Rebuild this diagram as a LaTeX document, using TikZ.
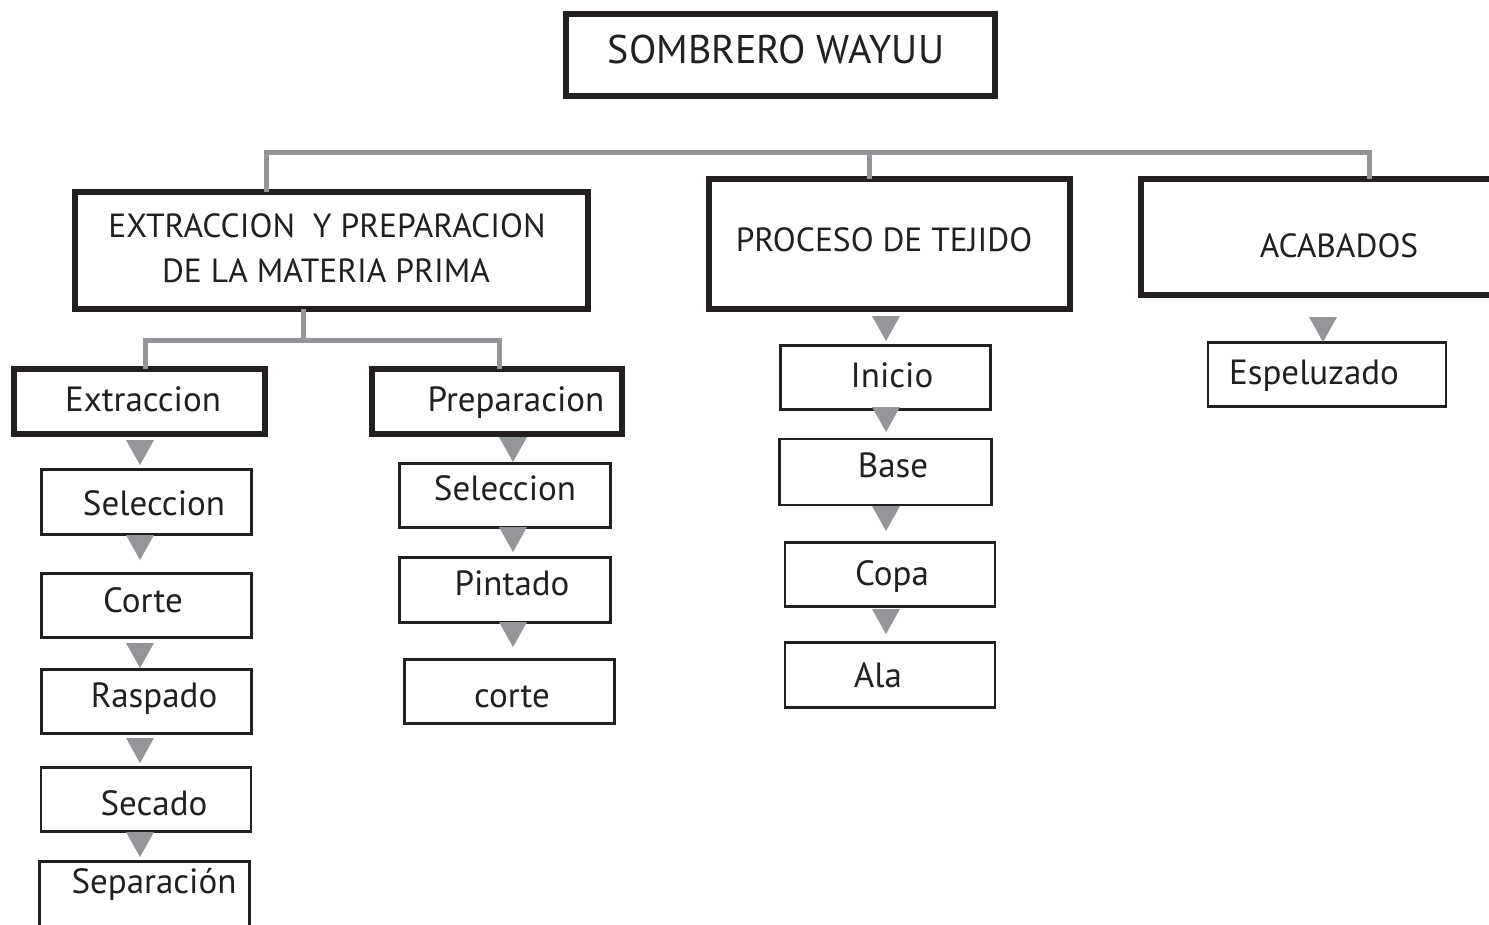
\documentclass[tikz,border=0pt]{standalone}
\usepackage{fontspec}
\setmainfont{PT Sans}
\definecolor{ink}{HTML}{231F20}
\definecolor{busgray}{HTML}{939598}
\begin{document}
\begin{tikzpicture}[x=1pt,y=-1pt,
  thickbox/.style={draw=ink, line width=5.5pt, inner sep=0pt, outer sep=0pt},
  thinbox/.style={draw=ink, line width=2.8pt, inner sep=0pt, outer sep=0pt},
  lbl/.style={anchor=base, inner sep=0pt, text=ink, font=\fontsize{35}{40}\selectfont},
  hlbl/.style={lbl, font=\fontsize{33.5}{40}\selectfont},
  bus/.style={draw=busgray, line width=5pt},
  tri/.pic={\fill[busgray] (-14,0) -- (14,0) -- (0,25) -- cycle;}
]
\clip (0,0) rectangle (1489,924);
\fill[white] (0,0) rectangle (1489,924);

% main boxes
\node[thickbox, minimum width=429pt, minimum height=82pt] (top) at (780.5,55) {};
\node[thickbox, minimum width=513pt, minimum height=117pt] (ext) at (331.5,250.5) {};
\node[thickbox, minimum width=361pt, minimum height=130pt] (proc) at (889.5,244) {};
\node[thickbox, minimum width=354pt, minimum height=116pt] (acab) at (1318,237) {};
\node[thickbox, minimum width=251pt, minimum height=65pt] (extr) at (139.5,401.5) {};
\node[thickbox, minimum width=250pt, minimum height=65pt] (prep) at (497,401.5) {};

% column 1
\node[thinbox, minimum width=210pt, minimum height=65pt] (sel1) at (146.5,502) {};
\node[thinbox, minimum width=210pt, minimum height=64pt] (cor1) at (146.5,605.5) {};
\node[thinbox, minimum width=210pt, minimum height=64pt] (ras) at (146.5,701.5) {};
\node[thinbox, minimum width=210pt, minimum height=64pt] (sec) at (146,799.5) {};
\node[thinbox, minimum width=210pt, minimum height=72pt] (sep) at (144.5,897.5) {};
% column 2
\node[thinbox, minimum width=211pt, minimum height=64pt] (sel2) at (505,495.5) {};
\node[thinbox, minimum width=211pt, minimum height=65pt] (pin) at (505,590) {};
\node[thinbox, minimum width=210pt, minimum height=64pt] (cor2) at (509.5,691.5) {};
% column 3
\node[thinbox, minimum width=210pt, minimum height=64pt] (ini) at (885.5,377.5) {};
\node[thinbox, minimum width=212pt, minimum height=66pt] (bas) at (885.5,472) {};
\node[thinbox, minimum width=210pt, minimum height=64pt] (cop) at (890,574.5) {};
\node[thinbox, minimum width=210pt, minimum height=65pt] (ala) at (890,675) {};
% column 4
\node[thinbox, minimum width=238pt, minimum height=64pt] (esp) at (1327,374.5) {};

% bus connectors
\coordinate (b1) at (266,152);
\coordinate (b2) at (869,152);
\coordinate (b3) at (1369,152);
\draw[bus] (b1 |- ext.north) -- (b1) -- (b3) -- (b3 |- acab.north);
\draw[bus] (b2) -- (b2 |- proc.north);
\coordinate (s) at (303,340);
\coordinate (sL) at (145,340);
\coordinate (sR) at (499,340);
\draw[bus] (s |- ext.south) -- (s);
\draw[bus] (sL |- extr.north) -- (sL) -- (sR) -- (sR |- prep.north);

% arrow triangles
\pic at (140,440) {tri};
\pic at (140,535) {tri};
\pic at (140,643) {tri};
\pic at (140,738) {tri};
\pic at (140,832) {tri};
\pic at (513,437) {tri};
\pic at (513,527) {tri};
\pic at (513,622) {tri};
\pic at (886,316) {tri};
\pic at (886,407) {tri};
\pic at (886,506) {tri};
\pic at (886,609) {tri};
\pic at (1323,317) {tri};

% labels
\node[lbl, font=\fontsize{40}{48}\selectfont] (ttop) at (776,63) {SOMBRERO WAYUU};
\node[hlbl] (text1) at (327,237) {EXTRACCION\ \ Y PREPARACION};
\node[hlbl] (text2) at (326,282) {DE LA MATERIA PRIMA};
\node[hlbl] (tproc) at (884,251) {PROCESO DE TEJIDO};
\node[hlbl] (tacab) at (1339,257) {ACABADOS};
\node[lbl] (textr) at (143,411) {Extraccion};
\node[lbl] (tprep) at (516,411) {Preparacion};
\node[lbl] (tsel1) at (154,515) {Seleccion};
\node[lbl] (tcor1) at (143,612) {Corte};
\node[lbl] (tras) at (154,707) {Raspado};
\node[lbl] (tsec) at (154,815) {Secado};
\node[lbl] (tsep) at (154,893) {Separación};
\node[lbl] (tsel2) at (505,500) {Seleccion};
\node[lbl] (tpin) at (512,595) {Pintado};
\node[lbl] (tcor2) at (512,707) {corte};
\node[lbl] (tini) at (892,387) {Inicio};
\node[lbl] (tbas) at (893,477) {Base};
\node[lbl] (tcop) at (892,585) {Copa};
\node[lbl] (tala) at (878,687) {Ala};
\node[lbl] (tesp) at (1314,384) {Espeluzado};
\end{tikzpicture}
\end{document}
